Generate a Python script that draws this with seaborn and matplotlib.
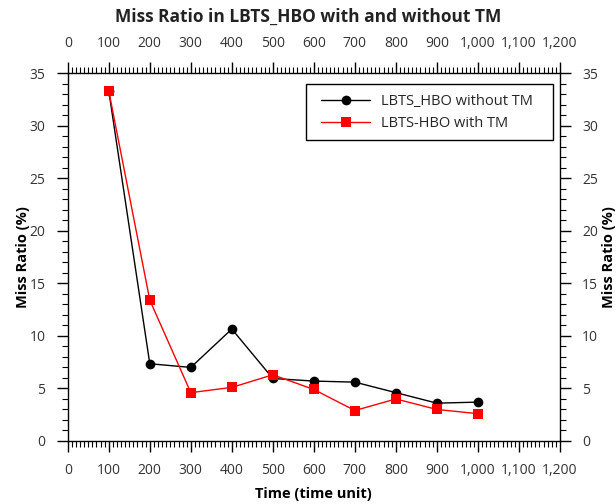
import matplotlib
matplotlib.use("Agg")
import matplotlib.pyplot as plt
import matplotlib.ticker as mticker
from matplotlib.patches import Rectangle
import seaborn as sns
import pandas as pd

time = [100, 200, 300, 400, 500, 600, 700, 800, 900, 1000]
without_tm = [33.3, 7.35, 7.0, 10.65, 5.95, 5.7, 5.6, 4.6, 3.6, 3.7]
with_tm = [33.3, 13.4, 4.6, 5.1, 6.3, 4.9, 2.9, 4.0, 3.0, 2.6]
series_names = ["LBTS_HBO without TM", "LBTS-HBO with TM"]
colors = ["black", "#ff0000"]
markers = ["o", "s"]

df = pd.DataFrame({
    "time": time * 2,
    "ratio": without_tm + with_tm,
    "series": [series_names[0]] * len(time) + [series_names[1]] * len(time),
})

sns.set_theme(style="ticks")
plt.rcParams["font.family"] = ["Open Sans", "DejaVu Sans"]

fig = plt.figure(figsize=(6.16, 5.04), dpi=100)
ax = fig.add_axes([0.110, 0.125, 0.799, 0.730])

sns.lineplot(data=df, x="time", y="ratio", hue="series", style="series",
             palette=dict(zip(series_names, colors)),
             markers=dict(zip(series_names, markers)),
             dashes=False, markersize=7, linewidth=1, markeredgewidth=0,
             ax=ax)

ax.set_xlim(0, 1200)
ax.set_ylim(0, 35)
ax.xaxis.set_major_locator(mticker.MultipleLocator(100))
ax.xaxis.set_minor_locator(mticker.MultipleLocator(10))
ax.yaxis.set_major_locator(mticker.MultipleLocator(5))
ax.yaxis.set_minor_locator(mticker.MultipleLocator(1))
fmt = mticker.FuncFormatter(lambda v, p: f"{int(v):,}")
ax.xaxis.set_major_formatter(fmt)

for s in ax.spines.values():
    s.set_color("black")
    s.set_linewidth(1)

ax.tick_params(which="both", top=True, right=True, labeltop=True, labelright=True,
               direction="out", color="black", labelsize=10, labelcolor="#333333")
ax.tick_params(which="major", length=8, width=1, pad=8)
ax.tick_params(which="minor", length=4, width=0.8)

ax.set_xlabel("Time (time unit)", fontsize=10.5, fontweight="bold", color="black", labelpad=6)
ax.set_ylabel("Miss Ratio (%)", fontsize=10.5, fontweight="bold", color="black", labelpad=0)
fig.text(0.988, 0.49, "Miss Ratio (%)", rotation=90, ha="center", va="center",
         fontsize=10.5, fontweight="bold", color="black")
fig.suptitle("Miss Ratio in LBTS_HBO with and without TM", y=0.985,
             fontsize=12.5, fontweight="bold", color="#222222")

# legend frame (drawn separately for wider horizontal padding)
ax.add_patch(Rectangle((0.484, 0.818), 0.502, 0.152, transform=ax.transAxes,
                       facecolor="white", edgecolor="black", linewidth=1, zorder=4))
leg = ax.legend(loc="upper left", bbox_to_anchor=(0.514, 0.942), frameon=False,
                fontsize=10.5, borderpad=0, borderaxespad=0, handlelength=3.4,
                handletextpad=0.7, labelspacing=0.45)
leg.set_zorder(5)

fig.savefig("out.png", dpi=100)
